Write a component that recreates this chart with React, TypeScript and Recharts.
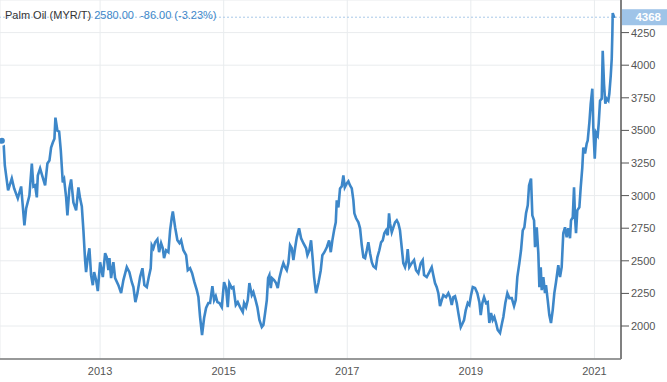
import React from 'react';
import { LineChart, Line, XAxis, YAxis, CartesianGrid, ReferenceLine } from 'recharts';

const dates = [
  2011.41, 2011.435, 2011.458, 2011.511, 2011.571, 2011.609, 2011.668, 2011.722, 2011.775, 2011.803,
  2011.856, 2011.895, 2011.921, 2011.948, 2011.976, 2011.992, 2012.029, 2012.057, 2012.11, 2012.147,
  2012.18, 2012.207, 2012.235, 2012.261, 2012.277, 2012.309, 2012.337, 2012.364, 2012.396, 2012.418,
  2012.45, 2012.471, 2012.503, 2012.531, 2012.568, 2012.612, 2012.649, 2012.676, 2012.704, 2012.73,
  2012.757, 2012.773, 2012.801, 2012.827, 2012.854, 2012.882, 2012.903, 2012.935, 2012.963, 2013.0,
  2013.044, 2013.081, 2013.108, 2013.134, 2013.151, 2013.178, 2013.215, 2013.243, 2013.296, 2013.34,
  2013.377, 2013.432, 2013.474, 2013.513, 2013.539, 2013.571, 2013.604, 2013.647, 2013.685, 2013.717,
  2013.756, 2013.788, 2013.819, 2013.836, 2013.862, 2013.89, 2013.927, 2013.955, 2013.987, 2014.015,
  2014.035, 2014.068, 2014.105, 2014.133, 2014.16, 2014.177, 2014.214, 2014.251, 2014.284, 2014.311,
  2014.348, 2014.392, 2014.419, 2014.456, 2014.489, 2014.526, 2014.565, 2014.591, 2014.618, 2014.65,
  2014.683, 2014.715, 2014.752, 2014.78, 2014.817, 2014.845, 2014.872, 2014.898, 2014.931, 2014.969,
  2015.006, 2015.039, 2015.066, 2015.092, 2015.131, 2015.157, 2015.196, 2015.228, 2015.265, 2015.309,
  2015.33, 2015.362, 2015.39, 2015.416, 2015.455, 2015.48, 2015.508, 2015.545, 2015.578, 2015.617,
  2015.643, 2015.67, 2015.698, 2015.719, 2015.74, 2015.762, 2015.783, 2015.815, 2015.848, 2015.875,
  2015.901, 2015.94, 2015.966, 2015.993, 2016.021, 2016.047, 2016.074, 2016.102, 2016.128, 2016.155,
  2016.183, 2016.22, 2016.253, 2016.29, 2016.334, 2016.355, 2016.387, 2016.414, 2016.442, 2016.463,
  2016.495, 2016.533, 2016.571, 2016.597, 2016.63, 2016.669, 2016.706, 2016.733, 2016.759, 2016.787,
  2016.814, 2016.83, 2016.856, 2016.883, 2016.911, 2016.937, 2016.96, 2016.992, 2017.018, 2017.045,
  2017.073, 2017.099, 2017.115, 2017.143, 2017.18, 2017.207, 2017.235, 2017.261, 2017.288, 2017.316,
  2017.341, 2017.369, 2017.397, 2017.422, 2017.461, 2017.487, 2017.519, 2017.547, 2017.574, 2017.6,
  2017.628, 2017.655, 2017.676, 2017.692, 2017.72, 2017.746, 2017.773, 2017.801, 2017.827, 2017.853,
  2017.881, 2017.907, 2017.935, 2017.962, 2017.978, 2018.004, 2018.043, 2018.081, 2018.113, 2018.15,
  2018.189, 2018.221, 2018.243, 2018.286, 2018.328, 2018.367, 2018.393, 2018.42, 2018.448, 2018.474,
  2018.501, 2018.529, 2018.555, 2018.599, 2018.636, 2018.663, 2018.691, 2018.717, 2018.744, 2018.772,
  2018.798, 2018.837, 2018.869, 2018.89, 2018.918, 2018.95, 2018.976, 2019.003, 2019.031, 2019.068,
  2019.105, 2019.138, 2019.16, 2019.186, 2019.214, 2019.246, 2019.273, 2019.299, 2019.327, 2019.354,
  2019.38, 2019.408, 2019.435, 2019.472, 2019.505, 2019.526, 2019.558, 2019.591, 2019.623, 2019.662,
  2019.699, 2019.726, 2019.752, 2019.785, 2019.812, 2019.84, 2019.866, 2019.893, 2019.921, 2019.942,
  2019.974, 2019.995, 2020.023, 2020.039, 2020.066, 2020.092, 2020.109, 2020.131, 2020.147, 2020.173,
  2020.2, 2020.216, 2020.244, 2020.27, 2020.297, 2020.325, 2020.351, 2020.378, 2020.415, 2020.443,
  2020.47, 2020.496, 2020.524, 2020.551, 2020.577, 2020.605, 2020.621, 2020.649, 2020.67, 2020.686,
  2020.702, 2020.723, 2020.756, 2020.778, 2020.804, 2020.82, 2020.848, 2020.875, 2020.891, 2020.918,
  2020.94, 2020.966, 2020.982, 2021.005, 2021.026, 2021.053, 2021.069, 2021.091, 2021.118, 2021.134,
  2021.155, 2021.176, 2021.199, 2021.225, 2021.241, 2021.264, 2021.28, 2021.29, 2021.296, 2021.322,
];

const prices = [
  3420, 3430, 3231, 3040, 3131, 3055, 2979, 3070, 2772, 2902,
  3001, 3246, 3070, 3078, 2986, 3154, 3208, 3162, 3078, 3246,
  3269, 3368, 3407, 3437, 3598, 3498, 3491, 3346, 3101, 3124,
  2986, 2849, 3055, 3124, 2948, 2887, 3063, 2979, 2917, 2734,
  2505, 2413, 2527, 2596, 2390, 2313, 2413, 2352, 2268, 2489,
  2375, 2558, 2527, 2428, 2520, 2367, 2489, 2367, 2313, 2252,
  2352, 2451, 2413, 2336, 2298, 2183, 2252, 2375, 2443, 2313,
  2298, 2375, 2443, 2619, 2596, 2642, 2665, 2566, 2635, 2596,
  2520, 2581, 2566, 2734, 2833, 2879, 2757, 2657, 2635, 2657,
  2581, 2543, 2428, 2443, 2405, 2336, 2275, 2222, 2069, 1931,
  2061, 2138, 2176, 2176, 2306, 2199, 2229, 2183, 2176, 2145,
  2336, 2291, 2145, 2329, 2291, 2298, 2161, 2183, 2145, 2107,
  2176, 2145, 2199, 2329, 2237, 2260, 2214, 2145, 2046, 1992,
  2008, 2099, 2199, 2367, 2390, 2291, 2367, 2352, 2329, 2291,
  2367, 2443, 2482, 2451, 2428, 2482, 2619, 2596, 2505, 2596,
  2680, 2749, 2673, 2635, 2596, 2543, 2581, 2657, 2505, 2375,
  2252, 2329, 2428, 2543, 2566, 2604, 2657, 2566, 2657, 2734,
  2795, 2963, 2910, 3055, 3070, 3154, 3063, 3093, 3109, 3078,
  3055, 2963, 2864, 2826, 2795, 2749, 2619, 2527, 2520, 2581,
  2642, 2558, 2489, 2459, 2443, 2527, 2581, 2642, 2657, 2711,
  2734, 2696, 2864, 2787, 2719, 2757, 2795, 2810, 2787, 2734,
  2604, 2482, 2451, 2505, 2589, 2451, 2482, 2505, 2428, 2405,
  2482, 2505, 2390, 2375, 2413, 2451, 2390, 2329, 2298, 2252,
  2153, 2199, 2237, 2222, 2252, 2222, 2161, 2222, 2229, 2176,
  2099, 1992, 2023, 2046, 2122, 2176, 2161, 2237, 2298, 2291,
  2252, 2183, 2084, 2176, 2222, 2176, 2183, 2023, 2099, 2046,
  2069, 2023, 1969, 1946, 2023, 2069, 2176, 2252, 2214, 2214,
  2153, 2199, 2375, 2482, 2581, 2734, 2757, 2864, 2925, 3078,
  3131, 2849, 2810, 2604, 2757, 2558, 2298, 2451, 2275, 2375,
  2252, 2313, 2199, 2084, 2023, 2122, 2252, 2336, 2466, 2375,
  2451, 2711, 2757, 2680, 2749, 2673, 2810, 2833, 3063, 2833,
  2711, 2887, 2910, 3063, 3216, 3368, 3323, 3399, 3422, 3560,
  3705, 3820, 3521, 3284, 3483, 3460, 3552, 3728, 3743, 4110,
  3858, 3705, 3743, 3728, 3781, 3919, 4049, 4240, 4400, 4362,
];

const xTicks = [2013, 2015, 2017, 2019, 2021];
const yTicks = [2000, 2250, 2500, 2750, 3000, 3250, 3500, 3750, 4000, 4250];
const titleText = 'Palm Oil (MYR/T)';
const lastText = '2580.00';
const changeText = '-86.00 (-3.23%)';
const currentValue = 4368;

const data = dates.map((t, i) => ({ t, v: prices[i] }));

const FONT = '"Liberation Sans", Arial, sans-serif';

const PriceTag = (props: any) => {
  const vb = props.viewBox || {};
  const x = (vb.x || 0) + (vb.width || 0);
  const y = vb.y || 0;
  return (
    <g>
      <rect x={x} y={y - 8} width={46} height={16} fill="#9fc4e8" />
      <text
        x={x + 40}
        y={y}
        dy="0.36em"
        textAnchor="end"
        fill="#ffffff"
        fontSize={11.5}
        fontFamily={FONT}
        fontWeight="bold"
      >
        {currentValue}
      </text>
    </g>
  );
};

export default function App() {
  return (
    <div style={{ position: 'absolute', left: 0, top: 0, width: 667, height: 382, background: '#fff' }}>
      <LineChart
        width={667}
        height={382}
        data={data}
        margin={{ top: 0, right: 0, bottom: 0, left: 0 }}
      >
        <CartesianGrid stroke="#e9ecee" strokeWidth={1} ticks={undefined} />
        <XAxis
          dataKey="t"
          type="number"
          domain={[2011.38, 2021.43]}
          ticks={xTicks}
          allowDataOverflow
          tickLine={false}
          tickSize={6}
          tickMargin={2}
          height={23}
          axisLine={{ stroke: '#7a7a7a', strokeWidth: 1.5 }}
          tick={{ fill: '#555', fontSize: 11, fontFamily: FONT }}
        />
        <YAxis
          orientation="right"
          type="number"
          domain={[1747, 4500]}
          ticks={yTicks}
          allowDataOverflow
          width={46}
          tickSize={8}
          tickMargin={2}
          axisLine={{ stroke: '#808080', strokeWidth: 2 }}
          tickLine={{ stroke: '#555' }}
          tick={{ fill: '#555', fontSize: 11, fontFamily: FONT, textAnchor: 'start' }}
        />
        <ReferenceLine
          y={currentValue}
          stroke="#a9c9e8"
          strokeDasharray="2 2"
          label={(p: any) => <PriceTag {...p} />}
        />
        <Line
          type="linear"
          dataKey="v"
          stroke="#3d87c9"
          strokeWidth={2.6}
          dot={false}
          isAnimationActive={false}
        />
      </LineChart>
      <div
        style={{
          position: 'absolute',
          left: 5,
          top: 9,
          fontFamily: FONT,
          fontSize: 11,
          lineHeight: '12px',
          whiteSpace: 'pre',
        }}
      >
        <span style={{ color: '#333' }}>{titleText}</span>
        <span style={{ color: '#3d87c9' }}>{' ' + lastText + '  ' + changeText}</span>
      </div>
    </div>
  );
}
